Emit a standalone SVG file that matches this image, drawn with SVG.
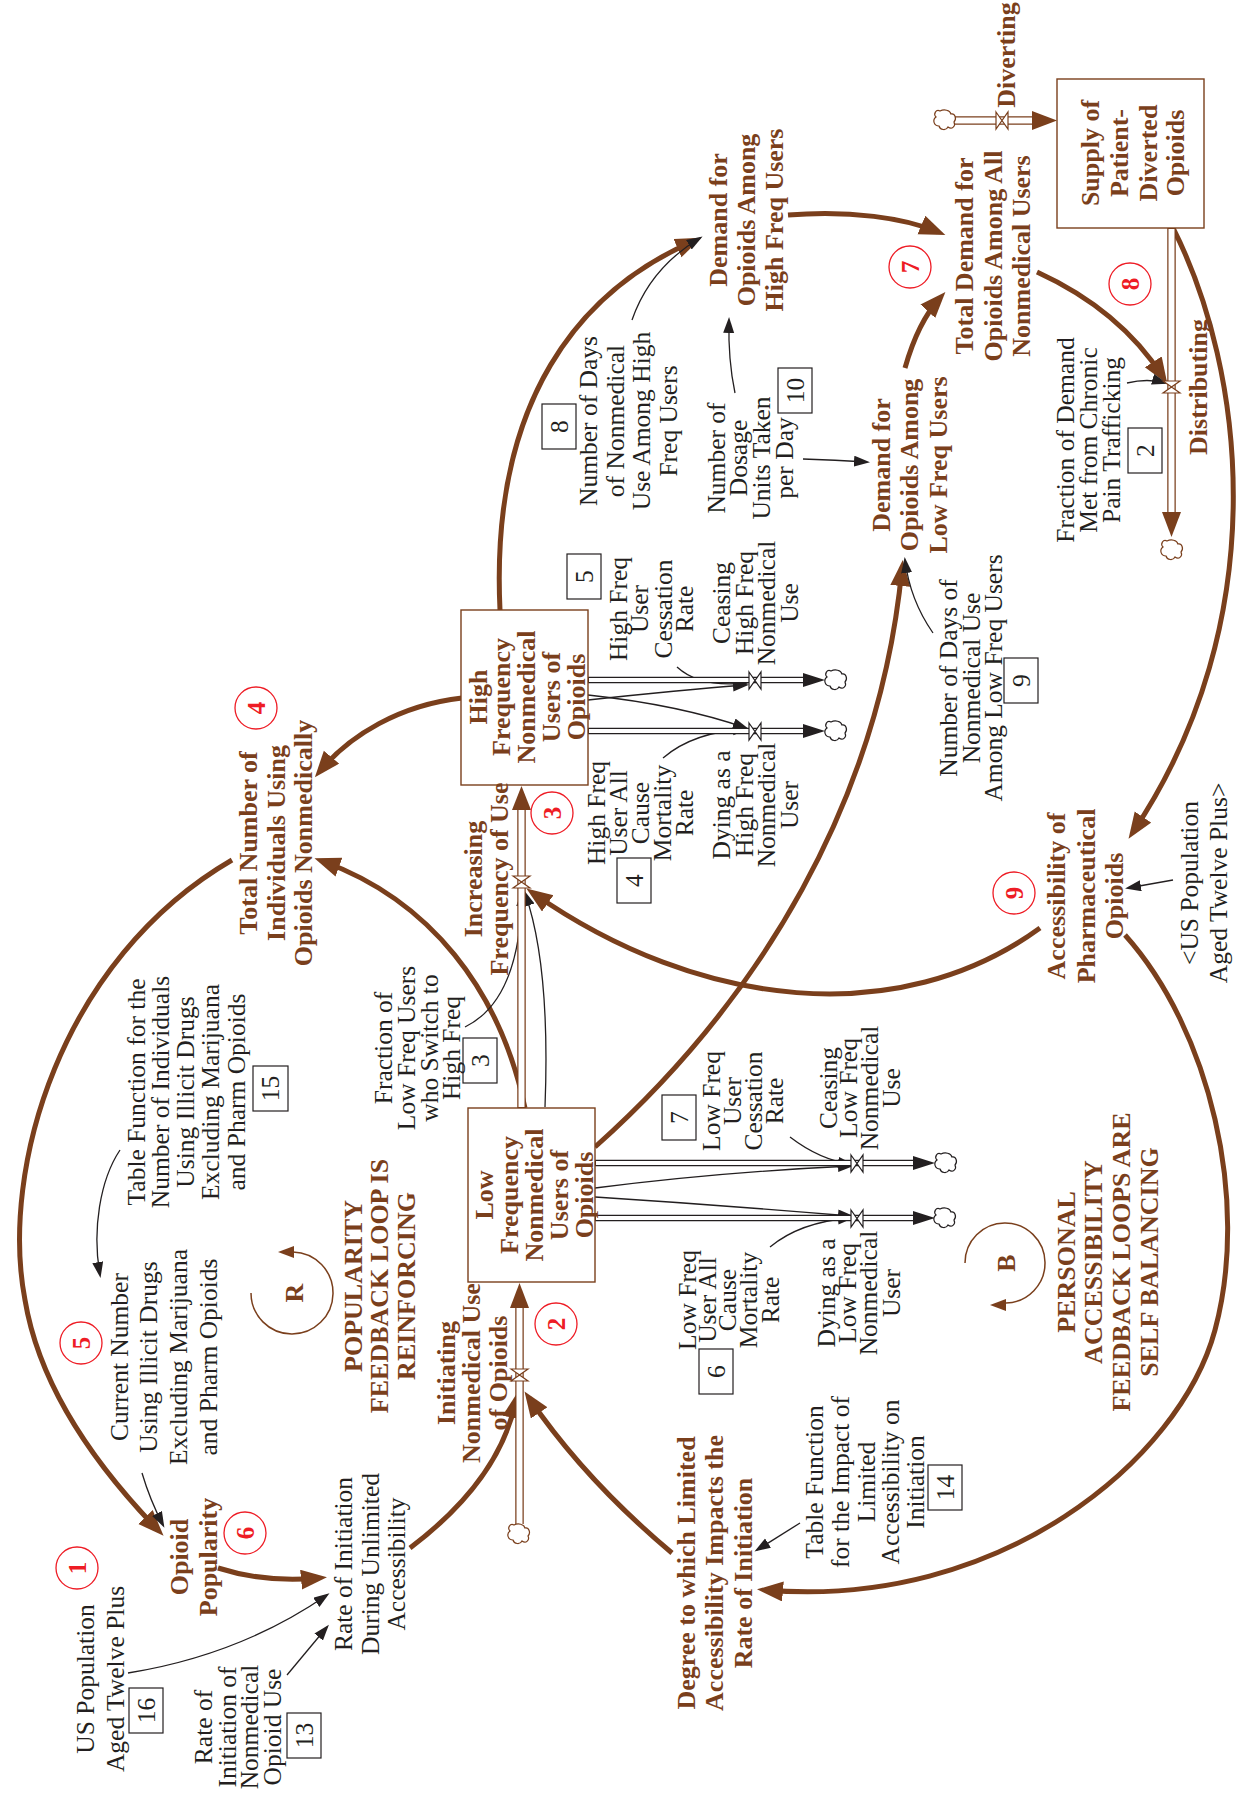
<svg xmlns="http://www.w3.org/2000/svg" xmlns:xlink="http://www.w3.org/1999/xlink" width="1237" height="1812" viewBox="0 0 1237 1812">
<style>
.b{font-family:"Liberation Serif","Times New Roman",serif;font-weight:bold;font-size:26px;fill:#7a3f1c;text-anchor:middle}
.t{font-family:"Liberation Serif","Times New Roman",serif;font-size:25.5px;fill:#231f20;text-anchor:middle}
.rd{font-family:"Liberation Serif","Times New Roman",serif;font-weight:bold;font-size:25px;fill:#ee1c25;text-anchor:middle}
.stock{fill:#fff;stroke:#7a3f1c;stroke-width:1.4}
.nb{fill:none;stroke:#231f20;stroke-width:1.2}
.rc{fill:none;stroke:#ee1c25;stroke-width:1.3}
.lk{fill:none;stroke:#231f20;stroke-width:1.3;marker-end:url(#ak)}
.lb{fill:none;stroke:#7a3f1c;stroke-width:5;marker-end:url(#ab)}
.po{fill:none;stroke:#7a3f1c;stroke-width:8.5}
.pk{fill:none;stroke:#231f20;stroke-width:6.5}
.pw{fill:none;stroke:#fff;stroke-width:6}
.pwk{fill:none;stroke:#fff;stroke-width:4}
.vb{fill:#fff;stroke:#7a3f1c;stroke-width:1.2}
.vk{fill:#fff;stroke:#231f20;stroke-width:1.2}
.hb{fill:#7a3f1c}
.hk{fill:#231f20}
.loop{fill:none;stroke:#7a3f1c;stroke-width:1.5}
</style>
<defs>
<marker id="ab" markerUnits="userSpaceOnUse" markerWidth="28" markerHeight="22" refX="18" refY="10" orient="auto"><path d="M0,0 L26,10 L0,20 z" fill="#7a3f1c"/></marker>
<marker id="ak" markerUnits="userSpaceOnUse" markerWidth="17" markerHeight="12" refX="13" refY="5.5" orient="auto"><path d="M0,0 L16,5.5 L0,11 z" fill="#231f20"/></marker>
<path id="cloud" d="M-5,-9 C-9,-11 -12,-6 -9,-3 C-13,0 -11,6 -6,6 C-5,10 1,11 3,7 C7,10 11,6 9,2 C12,-1 10,-7 6,-6 C5,-10 -1,-11 -5,-9 z"/>
</defs>
<rect width="1237" height="1812" fill="#fff"/>

<g id="connectors">
<!-- thick brown causal links -->
<path class="lb" d="M500,610 C490,400 580,290 694,241"/>
<path class="lb" d="M788,215 C850,210 905,218 938,232"/>
<path class="lb" d="M905,368 Q918,322 940,298"/>
<path class="lb" d="M1037,272 Q1120,310 1163,377"/>
<path class="lb" d="M1173,228 C1245,370 1275,620 1133,832"/>
<path class="lb" d="M1040,928 C900,1030 700,1010 533,893"/>
<path class="lb" d="M1125,935 C1210,1030 1250,1200 1215,1330 C1180,1460 1000,1610 765,1590"/>
<path class="lb" d="M672,1553 Q585,1480 529,1398"/>
<path class="lb" d="M410,1548 Q500,1480 516,1400"/>
<path class="lb" d="M218,1568 Q265,1583 319,1578"/>
<path class="lb" d="M232,860 C60,960 0,1170 25,1300 C40,1390 100,1470 158,1530"/>
<path class="lb" d="M525,1108 C500,990 430,900 322,861"/>
<path class="lb" d="M462,698 C400,705 350,735 320,771"/>
<path class="lb" d="M595,1147 C760,1000 880,800 902,568"/>
<!-- thin black links -->
<path class="lk" d="M632,320 Q650,268 700,238"/>
<path class="lk" d="M735,393 Q728,360 729,320"/>
<path class="lk" d="M803,459 Q835,460 867,462"/>
<path class="lk" d="M933,633 Q910,600 905,560"/>
<path class="lk" d="M1127,383 Q1148,378 1165,383"/>
<path class="lk" d="M677,667 Q700,688 746,683"/>
<path class="lk" d="M588,700 Q680,690 746,685"/>
<path class="lk" d="M588,695 Q680,705 746,728"/>
<path class="lk" d="M663,758 Q693,732 746,729"/>
<path class="lk" d="M790,1137 Q820,1160 851,1164"/>
<path class="lk" d="M595,1188 Q720,1172 851,1166"/>
<path class="lk" d="M595,1197 Q720,1205 851,1216"/>
<path class="lk" d="M770,1247 Q800,1222 851,1218"/>
<path class="lk" d="M465,1027 Q520,1000 522,893"/>
<path class="lk" d="M545,1107 C548,1030 545,950 525,893"/>
<path class="lk" d="M120,1150 C100,1180 92,1230 100,1275"/>
<path class="lk" d="M142,1473 Q150,1500 163,1525"/>
<path class="lk" d="M128,1673 Q240,1655 327,1595"/>
<path class="lk" d="M287,1675 L327,1627"/>
<path class="lk" d="M800,1523 L757,1550"/>
<path class="lk" d="M1173,880 L1128,888"/>
</g>

<g id="flows">
<!-- Diverting -->
<path class="po" d="M955,120.5 L1034,120.5"/><path class="pw" d="M954,120.5 L1034,120.5"/>
<polygon class="hb" points="1032,111 1057,120.5 1032,130"/>
<use href="#cloud" x="945" y="120" fill="#fff" stroke="#7a3f1c" stroke-width="1.2"/>
<path class="vb" d="M996,112 L1008,129 L1008,112 L996,129 Z"/>
<!-- Distributing -->
<path class="po" d="M1171.5,228 L1171.5,514"/><path class="pw" d="M1171.5,229 L1171.5,514"/>
<polygon class="hb" points="1162,512 1171.5,537 1181,512"/>
<use href="#cloud" x="1172" y="550" fill="#fff" stroke="#7a3f1c" stroke-width="1.2"/>
<path class="vb" d="M1163,381 L1180,393 L1163,393 L1180,381 Z"/>
<!-- Increasing -->
<path class="po" d="M521.5,1108 L521.5,808"/><path class="pw" d="M521.5,1107 L521.5,808"/>
<polygon class="hb" points="512,810 521.5,786 531,810"/>
<path class="vb" d="M513,876 L530,888 L513,888 L530,876 Z"/>
<!-- Initiating -->
<path class="po" d="M519.5,1524 L519.5,1306"/><path class="pw" d="M519.5,1524 L519.5,1306"/>
<polygon class="hb" points="510,1308 519.5,1283 529,1308"/>
<use href="#cloud" x="519" y="1534" fill="#fff" stroke="#7a3f1c" stroke-width="1.2"/>
<path class="vb" d="M511,1369 L528,1381 L511,1381 L528,1369 Z"/>
<!-- High outflows -->
<path class="pk" d="M588,680 L806,680"/><path class="pwk" d="M589,680 L806,680"/>
<polygon class="hk" points="803,673 825,680 803,687"/>
<use href="#cloud" x="836" y="680" fill="#fff" stroke="#231f20" stroke-width="1.2"/>
<path class="vk" d="M749,672 L761,689 L761,672 L749,689 Z"/>
<path class="pk" d="M588,731 L806,731"/><path class="pwk" d="M589,731 L806,731"/>
<polygon class="hk" points="803,724 825,731 803,738"/>
<use href="#cloud" x="836" y="731" fill="#fff" stroke="#231f20" stroke-width="1.2"/>
<path class="vk" d="M749,723 L761,740 L761,723 L749,740 Z"/>
<!-- Low outflows -->
<path class="pk" d="M595,1163 L916,1163"/><path class="pwk" d="M596,1163 L916,1163"/>
<polygon class="hk" points="913,1156 935,1163 913,1170"/>
<use href="#cloud" x="946" y="1163" fill="#fff" stroke="#231f20" stroke-width="1.2"/>
<path class="vk" d="M851,1155 L863,1172 L863,1155 L851,1172 Z"/>
<path class="pk" d="M595,1218 L916,1218"/><path class="pwk" d="M596,1218 L916,1218"/>
<polygon class="hk" points="913,1211 935,1218 913,1225"/>
<use href="#cloud" x="945" y="1218" fill="#fff" stroke="#231f20" stroke-width="1.2"/>
<path class="vk" d="M851,1210 L863,1227 L863,1210 L851,1227 Z"/>
</g>

<g id="supply"><rect class="stock" x="1057" y="79" width="147" height="149"/>
<text class="b" transform="translate(0,153) rotate(-90)"><tspan x="0" y="1099">Supply of</tspan><tspan x="0" y="1128">Patient-</tspan><tspan x="0" y="1157">Diverted</tspan><tspan x="0" y="1184">Opioids</tspan></text></g>
<g id="high-stock"><rect class="stock" x="461" y="610" width="127" height="175"/>
<text class="b" transform="translate(0,697) rotate(-90)"><tspan x="0" y="487">High</tspan><tspan x="0" y="510">Frequency</tspan><tspan x="0" y="535">Nonmedical</tspan><tspan x="0" y="560">Users of</tspan><tspan x="0" y="585">Opioids</tspan></text></g>
<g id="low-stock"><rect class="stock" x="468" y="1108" width="127" height="174"/>
<text class="b" transform="translate(0,1195) rotate(-90)"><tspan x="0" y="493">Low</tspan><tspan x="0" y="518">Frequency</tspan><tspan x="0" y="543">Nonmedical</tspan><tspan x="0" y="568">Users of</tspan><tspan x="0" y="593">Opioids</tspan></text></g>

<g id="diverting"><text class="b" transform="translate(0,55) rotate(-90)"><tspan x="0" y="1015">Diverting</tspan></text></g>
<g id="distributing"><text class="b" transform="translate(0,387) rotate(-90)"><tspan x="0" y="1207">Distributing</tspan></text></g>
<g id="increasing"><text class="b" transform="translate(0,879) rotate(-90)"><tspan x="0" y="482">Increasing</tspan><tspan x="0" y="508">Frequency of Use</tspan></text></g>
<g id="initiating"><text class="b" transform="translate(0,1373) rotate(-90)"><tspan x="0" y="455">Initiating</tspan><tspan x="0" y="480">Nonmedical Use</tspan><tspan x="0" y="507">of Opioids</tspan></text></g>

<g id="demand-high"><text class="b" transform="translate(0,220) rotate(-90)"><tspan x="0" y="727">Demand for</tspan><tspan x="0" y="755">Opioids Among</tspan><tspan x="0" y="783">High Freq Users</tspan></text></g>
<g id="total-demand"><text class="b" transform="translate(0,256) rotate(-90)"><tspan x="0" y="973">Total Demand for</tspan><tspan x="0" y="1002">Opioids Among All</tspan><tspan x="0" y="1030">Nonmedical Users</tspan></text></g>
<g id="demand-low"><text class="b" transform="translate(0,465) rotate(-90)"><tspan x="0" y="890">Demand for</tspan><tspan x="0" y="918">Opioids Among</tspan><tspan x="0" y="947">Low Freq Users</tspan></text></g>
<g id="total-number"><text class="b" transform="translate(0,843) rotate(-90)"><tspan x="0" y="257">Total Number of</tspan><tspan x="0" y="285">Individuals Using</tspan><tspan x="0" y="312">Opioids Nonmedically</tspan></text></g>
<g id="accessibility"><text class="b" transform="translate(0,896) rotate(-90)"><tspan x="0" y="1065">Accessibility of</tspan><tspan x="0" y="1095">Pharmaceutical</tspan><tspan x="0" y="1123">Opioids</tspan></text></g>
<g id="popularity"><text class="b" transform="translate(0,1557) rotate(-90)"><tspan x="0" y="188">Opioid</tspan><tspan x="0" y="217">Popularity</tspan></text></g>
<g id="degree"><text class="b" transform="translate(0,1573) rotate(-90)"><tspan x="0" y="695">Degree to which Limited</tspan><tspan x="0" y="723">Accessibility Impacts the</tspan><tspan x="0" y="752">Rate of Initiation</tspan></text></g>

<g id="num-days-high"><rect class="nb" x="542" y="404" width="34" height="45"/><text class="t" transform="translate(0,426.5) rotate(-90)"><tspan x="0" y="568">8</tspan></text>
<text class="t" transform="translate(0,421) rotate(-90)"><tspan x="0" y="597">Number of Days</tspan><tspan x="0" y="624">of Nonmedical</tspan><tspan x="0" y="650">Use Among High</tspan><tspan x="0" y="677">Freq Users</tspan></text></g>
<g id="dosage"><rect class="nb" x="778" y="368" width="34" height="45"/><text class="t" transform="translate(0,390.5) rotate(-90)"><tspan x="0" y="804">10</tspan></text>
<text class="t" transform="translate(0,458) rotate(-90)"><tspan x="0" y="725">Number of</tspan><tspan x="0" y="747">Dosage</tspan><tspan x="0" y="770">Units Taken</tspan><tspan x="0" y="793">per Day</tspan></text></g>
<g id="fraction-demand"><rect class="nb" x="1128" y="428" width="34" height="45"/><text class="t" transform="translate(0,450.5) rotate(-90)"><tspan x="0" y="1154">2</tspan></text>
<text class="t" transform="translate(0,440) rotate(-90)"><tspan x="0" y="1074">Fraction of Demand</tspan><tspan x="0" y="1097">Met from Chronic</tspan><tspan x="0" y="1120">Pain Trafficking</tspan></text></g>
<g id="num-days-low"><rect class="nb" x="1004" y="658" width="34" height="45"/><text class="t" transform="translate(0,680.5) rotate(-90)"><tspan x="0" y="1030">9</tspan></text>
<text class="t" transform="translate(0,678) rotate(-90)"><tspan x="0" y="957">Number of Days of</tspan><tspan x="0" y="980">Nonmedical Use</tspan><tspan x="0" y="1002">Among Low Freq Users</tspan></text></g>
<g id="high-cessation"><rect class="nb" x="567" y="554" width="34" height="45"/><text class="t" transform="translate(0,576.5) rotate(-90)"><tspan x="0" y="593">5</tspan></text>
<text class="t" transform="translate(0,609) rotate(-90)"><tspan x="0" y="627">High Freq</tspan><tspan x="0" y="648">User</tspan><tspan x="0" y="672">Cessation</tspan><tspan x="0" y="693">Rate</tspan></text></g>
<g id="high-mortality"><rect class="nb" x="617" y="858" width="34" height="45"/><text class="t" transform="translate(0,880.5) rotate(-90)"><tspan x="0" y="643">4</tspan></text>
<text class="t" transform="translate(0,813) rotate(-90)"><tspan x="0" y="605">High Freq</tspan><tspan x="0" y="627">User All</tspan><tspan x="0" y="649">Cause</tspan><tspan x="0" y="671">Mortality</tspan><tspan x="0" y="693">Rate</tspan></text></g>
<g id="low-cessation"><rect class="nb" x="662" y="1095" width="34" height="45"/><text class="t" transform="translate(0,1117.5) rotate(-90)"><tspan x="0" y="688">7</tspan></text>
<text class="t" transform="translate(0,1101) rotate(-90)"><tspan x="0" y="720">Low Freq</tspan><tspan x="0" y="741">User</tspan><tspan x="0" y="762">Cessation</tspan><tspan x="0" y="783">Rate</tspan></text></g>
<g id="low-mortality"><rect class="nb" x="699" y="1349" width="34" height="45"/><text class="t" transform="translate(0,1371.5) rotate(-90)"><tspan x="0" y="725">6</tspan></text>
<text class="t" transform="translate(0,1300) rotate(-90)"><tspan x="0" y="696">Low Freq</tspan><tspan x="0" y="716">User All</tspan><tspan x="0" y="736">Cause</tspan><tspan x="0" y="757">Mortality</tspan><tspan x="0" y="779">Rate</tspan></text></g>
<g id="ceasing-high"><text class="t" transform="translate(0,603) rotate(-90)"><tspan x="0" y="730">Ceasing</tspan><tspan x="0" y="753">High Freq</tspan><tspan x="0" y="775">Nonmedical</tspan><tspan x="0" y="798">Use</tspan></text></g>
<g id="dying-high"><text class="t" transform="translate(0,805) rotate(-90)"><tspan x="0" y="730">Dying as a</tspan><tspan x="0" y="753">High Freq</tspan><tspan x="0" y="775">Nonmedical</tspan><tspan x="0" y="798">User</tspan></text></g>
<g id="ceasing-low"><text class="t" transform="translate(0,1088) rotate(-90)"><tspan x="0" y="837">Ceasing</tspan><tspan x="0" y="857">Low Freq</tspan><tspan x="0" y="878">Nonmedical</tspan><tspan x="0" y="900">Use</tspan></text></g>
<g id="dying-low"><text class="t" transform="translate(0,1293) rotate(-90)"><tspan x="0" y="835">Dying as a</tspan><tspan x="0" y="856">Low Freq</tspan><tspan x="0" y="877">Nonmedical</tspan><tspan x="0" y="900">User</tspan></text></g>
<g id="fraction-switch"><rect class="nb" x="463" y="1038" width="34" height="45"/><text class="t" transform="translate(0,1060.5) rotate(-90)"><tspan x="0" y="489">3</tspan></text>
<text class="t" transform="translate(0,1048) rotate(-90)"><tspan x="0" y="392">Fraction of</tspan><tspan x="0" y="415">Low Freq Users</tspan><tspan x="0" y="438">who Switch to</tspan><tspan x="0" y="460">High Freq</tspan></text></g>
<g id="current-number"><text class="t" transform="translate(0,1357) rotate(-90)"><tspan x="0" y="128">Current Number</tspan><tspan x="0" y="157">Using Illicit Drugs</tspan><tspan x="0" y="187">Excluding Marijuana</tspan><tspan x="0" y="217">and Pharm Opioids</tspan></text></g>
<g id="table15"><rect class="nb" x="253" y="1066" width="35" height="45"/><text class="t" transform="translate(0,1088.5) rotate(-90)"><tspan x="0" y="279">15</tspan></text>
<text class="t" transform="translate(0,1092) rotate(-90)"><tspan x="0" y="145">Table Function for the</tspan><tspan x="0" y="169">Number of Individuals</tspan><tspan x="0" y="194">Using Illicit Drugs</tspan><tspan x="0" y="219">Excluding Marijuana</tspan><tspan x="0" y="245">and Pharm Opioids</tspan></text></g>
<g id="us-pop"><rect class="nb" x="129" y="1688" width="34" height="45"/><text class="t" transform="translate(0,1710.5) rotate(-90)"><tspan x="0" y="155">16</tspan></text>
<text class="t" transform="translate(0,1679) rotate(-90)"><tspan x="0" y="94">US Population</tspan><tspan x="0" y="124">Aged Twelve Plus</tspan></text></g>
<g id="rate13"><rect class="nb" x="287" y="1713" width="34" height="45"/><text class="t" transform="translate(0,1735.5) rotate(-90)"><tspan x="0" y="313">13</tspan></text>
<text class="t" transform="translate(0,1727) rotate(-90)"><tspan x="0" y="212">Rate of</tspan><tspan x="0" y="236">Initiation of</tspan><tspan x="0" y="258">Nonmedical</tspan><tspan x="0" y="281">Opioid Use</tspan></text></g>
<g id="rate-init"><text class="t" transform="translate(0,1564) rotate(-90)"><tspan x="0" y="352">Rate of Initiation</tspan><tspan x="0" y="379">During Unlimited</tspan><tspan x="0" y="405">Accessibility</tspan></text></g>
<g id="table14"><rect class="nb" x="928" y="1465" width="34" height="45"/><text class="t" transform="translate(0,1487.5) rotate(-90)"><tspan x="0" y="954">14</tspan></text>
<text class="t" transform="translate(0,1482) rotate(-90)"><tspan x="0" y="823">Table Function</tspan><tspan x="0" y="849">for the Impact of</tspan><tspan x="0" y="875">Limited</tspan><tspan x="0" y="899">Accessibility on</tspan><tspan x="0" y="924">Initiation</tspan></text></g>
<g id="us-pop-shadow"><text class="t" transform="translate(0,883) rotate(-90)"><tspan x="0" y="1198">&lt;US Population</tspan><tspan x="0" y="1227">Aged Twelve Plus&gt;</tspan></text></g>

<g id="loop-r"><path class="loop" d="M251,1293 A41,41 0 1 0 293,1252"/><polygon class="hb" points="278,1252 294,1246 294,1258"/>
<text class="b" transform="translate(0,1293) rotate(-90)"><tspan x="0" y="303">R</tspan></text>
<text class="b" transform="translate(0,1286) rotate(-90)"><tspan x="0" y="362">POPULARITY</tspan><tspan x="0" y="388">FEEDBACK LOOP IS</tspan><tspan x="0" y="415">REINFORCING</tspan></text></g>
<g id="loop-b"><path class="loop" d="M965,1263 A40,40 0 1 1 1006,1303"/><polygon class="hb" points="990,1305 1006,1299 1006,1311"/>
<text class="b" transform="translate(0,1263) rotate(-90)"><tspan x="0" y="1015">B</tspan></text>
<text class="b" transform="translate(0,1262) rotate(-90)"><tspan x="0" y="1075">PERSONAL</tspan><tspan x="0" y="1102">ACCESSIBILITY</tspan><tspan x="0" y="1130">FEEDBACK LOOPS ARE</tspan><tspan x="0" y="1158">SELF BALANCING</tspan></text></g>

<g id="markers">
<circle class="rc" cx="77" cy="1568" r="21"/><text class="rd" transform="translate(0,1568) rotate(-90)"><tspan x="0" y="86">1</tspan></text>
<circle class="rc" cx="556" cy="1324" r="21"/><text class="rd" transform="translate(0,1324) rotate(-90)"><tspan x="0" y="565">2</tspan></text>
<circle class="rc" cx="552" cy="813" r="21"/><text class="rd" transform="translate(0,813) rotate(-90)"><tspan x="0" y="561">3</tspan></text>
<circle class="rc" cx="256" cy="708" r="21"/><text class="rd" transform="translate(0,708) rotate(-90)"><tspan x="0" y="265">4</tspan></text>
<circle class="rc" cx="81" cy="1343" r="21"/><text class="rd" transform="translate(0,1343) rotate(-90)"><tspan x="0" y="90">5</tspan></text>
<circle class="rc" cx="245" cy="1533" r="21"/><text class="rd" transform="translate(0,1533) rotate(-90)"><tspan x="0" y="254">6</tspan></text>
<circle class="rc" cx="910" cy="267" r="21"/><text class="rd" transform="translate(0,267) rotate(-90)"><tspan x="0" y="919">7</tspan></text>
<circle class="rc" cx="1130" cy="284" r="21"/><text class="rd" transform="translate(0,284) rotate(-90)"><tspan x="0" y="1139">8</tspan></text>
<circle class="rc" cx="1014" cy="893" r="21"/><text class="rd" transform="translate(0,893) rotate(-90)"><tspan x="0" y="1023">9</tspan></text>
</g>
</svg>
